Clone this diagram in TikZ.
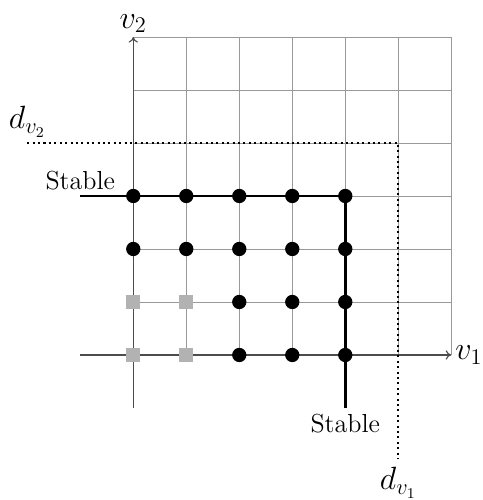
\documentclass[tikz,border=0pt]{standalone}
\usetikzlibrary{arrows.meta}
\begin{document}
\begin{tikzpicture}[x=1cm,y=1cm,
  gridline/.style={draw=black!40,line width=0.5pt},
  axisline/.style={draw=black!70,line width=0.6pt},
  stableline/.style={draw=black,line width=1.4pt},
  boundline/.style={draw=black,line width=1.1pt,dash pattern=on 1.1pt off 1.8pt},
  blackdot/.style={circle,fill=black,inner sep=0pt,minimum size=0.27cm},
  graysq/.style={rectangle,fill=black!30,inner sep=0pt,minimum size=0.27cm},
  lbl/.style={font=\fontsize{14}{16}\selectfont},
  mlbl/.style={font=\fontsize{16.5}{19}\selectfont}]
\useasboundingbox (-2.515,-2.736) rectangle (6.58,6.698);
% grid
\draw[gridline] (0,0) grid (6,6);
% axes
\coordinate (xs) at (-1,0); \coordinate (xe) at (6,0);
\coordinate (ys) at (0,-1); \coordinate (ye) at (0,6);
\draw[axisline,-{To[length=3pt,width=5pt]}] (xs) -- (xe);
\draw[axisline,-{To[length=3pt,width=5pt]}] (ys) -- (ye);
\node[mlbl,anchor=west,inner sep=2pt] (v1) at (xe) {$v_1$};
\node[mlbl,anchor=south,inner sep=2pt] (v2) at (ye) {$v_2$};
% dotted bounds
\coordinate (d2s) at (-2,4); \coordinate (dc) at (5,4); \coordinate (d1e) at (5,-1.95);
\draw[boundline] (d2s) -- (dc) -- (d1e);
\node[mlbl,anchor=south,inner sep=3pt] (dv2) at (d2s) {$d_{v_2}$};
\node[mlbl,anchor=north,inner sep=1pt] (dv1) at (5,-2.08) {$d_{v_1}$};
% stable lines
\coordinate (s1) at (-1,3); \coordinate (sc) at (4,3); \coordinate (s2) at (4,-1);
\draw[stableline] (s1) -- (sc) -- (s2);
\node[lbl,anchor=south,inner sep=3pt] (st1) at (s1) {Stable};
\node[lbl,anchor=north,inner sep=3pt] (st2) at (s2) {Stable};
% points
\foreach \x in {0,...,4} {
  \node[blackdot] (p\x3) at (\x,3) {};
  \node[blackdot] (p\x2) at (\x,2) {};
}
\foreach \x in {2,3,4} {
  \node[blackdot] (p\x1) at (\x,1) {};
  \node[blackdot] (p\x0) at (\x,0) {};
}
\foreach \x in {0,1} {
  \node[graysq] (q\x1) at (\x,1) {};
  \node[graysq] (q\x0) at (\x,0) {};
}
\end{tikzpicture}
\end{document}
